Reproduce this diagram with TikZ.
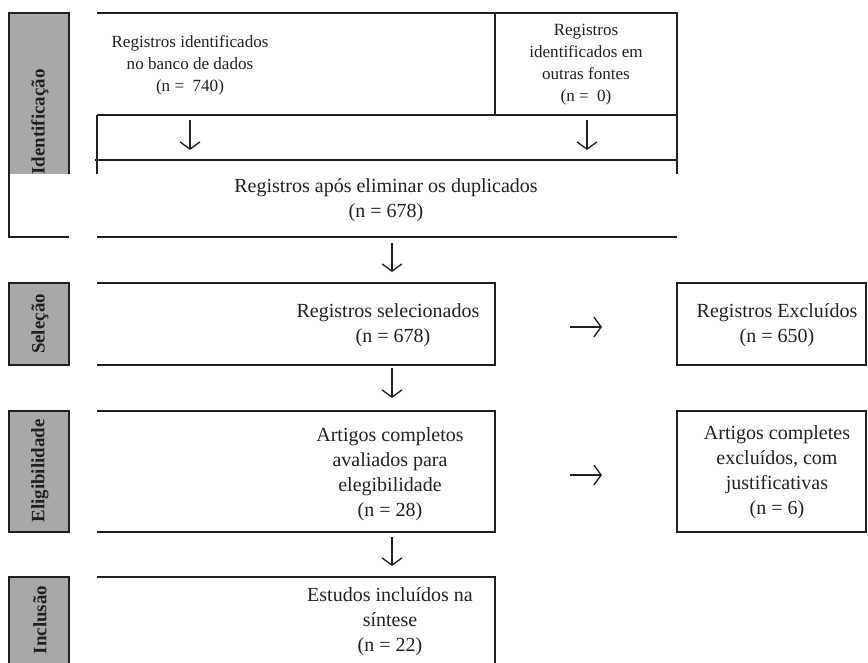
\documentclass[tikz,border=0pt]{standalone}
\usepackage{fontspec}
\setmainfont{Liberation Serif}
\usetikzlibrary{arrows.meta}
\definecolor{inkdark}{HTML}{231F20}
\definecolor{stagegrey}{HTML}{A8A8A8}
\tikzset{record/.style={align=center,font=\fontsize{15}{18.75}\selectfont,text=inkdark,inner sep=0pt},recsmall/.style={record,font=\fontsize{12.8}{16.5}\selectfont},stage/.style={rotate=90,font=\fontsize{14.2}{16}\selectfont\bfseries,text=inkdark,inner sep=0pt},frame/.style={draw=inkdark,line width=1.5pt},flow/.style={-{Straight Barb[length=5.5pt,width=15pt]},line width=1pt,draw=inkdark}}

\begin{document}
\begin{tikzpicture}[x=0.75pt,y=-0.75pt]
\useasboundingbox (0,0) rectangle (868,662);
% stage labels
\fill[stagegrey] (9,13) rectangle (69,174);
\draw[frame] (69,174)--(69,13)--(9,13)--(9,237)--(69,237);
\foreach \t/\b in {283/365,411/532}{\draw[frame,fill=stagegrey] (9,\t) rectangle (69,\b);}
\draw[frame,fill=stagegrey] (9,664)--(9,577)--(69,577)--(69,664);
\node[stage] (sid) at (40,122) {Identificação};
\node[stage] (ssel) at (40,324) {Seleção};
\node[stage] (seleg) at (40,471) {Eligibilidade};
\node[stage] (sinc) at (40,620) {Inclusão};
% identification frames
\draw[frame] (97,13)--(677,13)--(677,174) (495,13)--(495,115) (97,115)--(677,115) (97,115)--(97,174) (97,237)--(677,237);
\draw[draw=inkdark,line width=0.8pt] (95,160)--(677,160);
% main column
\draw[frame] (97,283)--(495,283)--(495,365)--(97,365);
\draw[frame] (97,411)--(495,411)--(495,532)--(97,532);
\draw[frame] (97,577)--(495,577)--(495,664);
\draw[frame] (677,283) rectangle (866,365);
\draw[frame] (677,411) rectangle (866,532);
% texts
\node[recsmall] (db) at (190,65) {Registros identificados\\no banco de dados\\(n =\ \ 740)};
\node[recsmall] (other) at (586,65) {Registros\\identificados em\\outras fontes\\(n =\ \ 0)};
\node[record] (dup) at (386,200) {Registros após eliminar os duplicados\\(n = 678)};
\node[record] (sel) at (388,325) {Registros selecionados\\\ \ (n = 678)};
\node[record] (exc) at (777,325) {Registros Excluídos\\(n = 650)};
\node[record] (full) at (390,474.5) {Artigos completos\\avaliados para\\elegibilidade\\(n = 28)};
\node[record] (fexc) at (777,472) {Artigos completes\\excluídos, com\\justificativas\\(n = 6)};
\node[record] (inc) at (390,622) {Estudos incluídos na\\síntese\\(n = 22)};
% arrows
\foreach \n/\x/\t/\b in {a/190/120/150,b/587/120/150,c/392/243/272,d/392/368/398,e/392/537/566}{
\coordinate (\n0) at (\x,\t);
\coordinate (\n1) at (\x,\b);
\draw[flow] (\n0)--(\n1);
}
\foreach \n/\y in {f/327,g/475}{
\coordinate (\n0) at (570,\y);
\coordinate (\n1) at (602,\y);
\draw[flow] (\n0)--(\n1);
}
\end{tikzpicture}
\end{document}
